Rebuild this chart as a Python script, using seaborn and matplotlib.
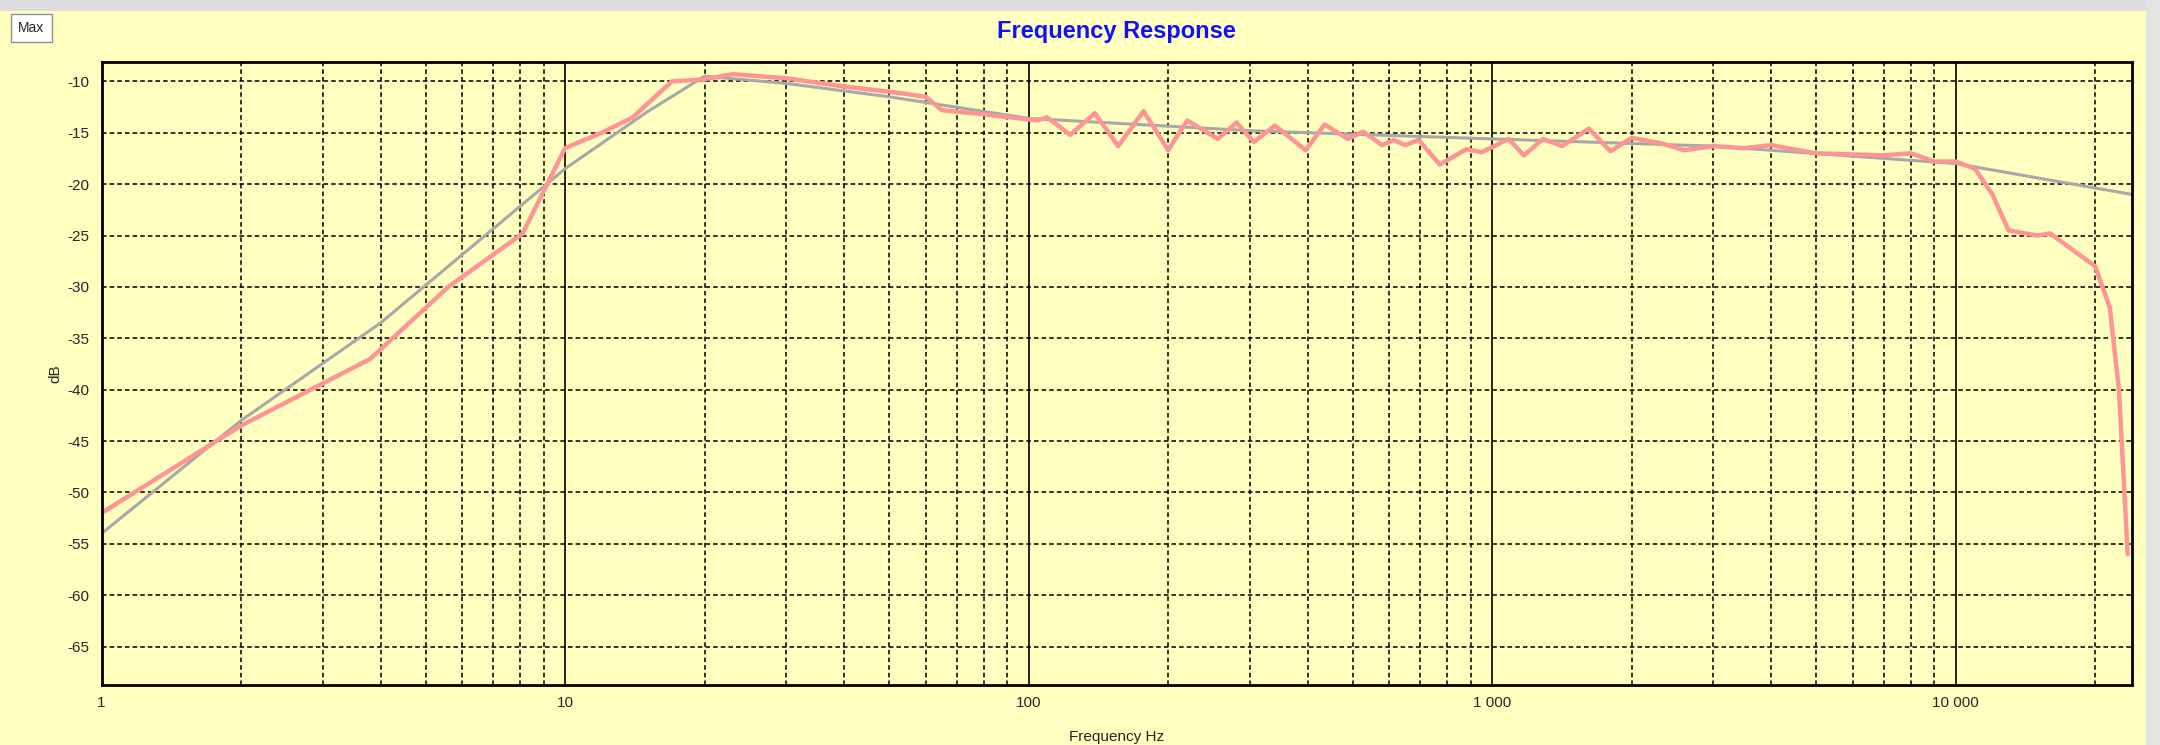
import numpy as np
import pandas as pd
import matplotlib
matplotlib.use("Agg")
import matplotlib.pyplot as plt
import seaborn as sns
from matplotlib.patches import Rectangle
from matplotlib.ticker import FixedLocator, FuncFormatter, LogLocator, NullFormatter

sns.set_style("white")
plt.rcParams['font.family'] = ['Liberation Sans', 'DejaVu Sans']
plt.rcParams['axes.unicode_minus'] = False

meas_f = [1, 2, 3.8, 5.6, 8.1, 10, 12, 14, 17, 20, 23, 30, 40, 50, 60, 65, 80, 86.5,
          104.7, 109.7, 123, 139, 156, 177, 200, 220, 256, 281, 306, 340, 396, 435, 488,
          527, 579, 613, 649, 694, 771, 880, 950, 1085, 1171, 1288, 1416, 1617, 1800,
          2000, 2300, 2600, 3000, 3500, 4000, 5000, 7000, 8000, 9000, 10000, 11000,
          12000, 13000, 15000, 16000, 18000, 20000, 21500, 22500, 23500]
meas_db = [-52, -43.5, -37, -30, -24.8, -16.5, -15, -13.5, -10, -9.8, -9.3, -9.7, -10.5,
           -11, -11.5, -12.8, -13.2, -13.4, -13.8, -13.5, -15.2, -13.1, -16.3, -12.9,
           -16.7, -13.8, -15.6, -14.0, -15.9, -14.3, -16.7, -14.2, -15.6, -14.9, -16.2,
           -15.7, -16.2, -15.7, -18.1, -16.6, -16.9, -15.6, -17.2, -15.6, -16.3, -14.6,
           -16.8, -15.5, -16.0, -16.7, -16.3, -16.5, -16.2, -17.0, -17.2, -17.0, -17.8,
           -17.8, -18.5, -21, -24.5, -25, -24.8, -26.5, -28, -32, -40, -56]
model_f = [1, 2, 4, 10, 15, 20, 30, 50, 100, 300, 1000, 3000, 10000, 24000]
model_db = [-54, -43, -33.5, -18.5, -13, -9.5, -10.2, -11.5, -13.6, -14.8, -15.6, -16.3, -18, -21]

bg = "#FFFFC0"
fig = plt.figure(figsize=(21.6, 7.45), dpi=100, facecolor=bg)
fig.patches.append(Rectangle((0, 0.985), 1, 0.015, transform=fig.transFigure,
                             fc="#DDDDDD", ec="none", zorder=0))
fig.patches.append(Rectangle((0.9935, 0), 0.0065, 1, transform=fig.transFigure,
                             fc="#E4E4E4", ec="none", zorder=0))
ax = fig.add_axes([0.047, 0.081, 0.94, 0.836])
ax.set_facecolor(bg)

sns.lineplot(x=model_f, y=model_db, ax=ax, color="#A8A8A8", linewidth=2.2, estimator=None, sort=False)
sns.lineplot(x=meas_f, y=meas_db, ax=ax, color="#FF9494", linewidth=3.2, estimator=None, sort=False)

ax.set_xscale("log")
ax.set_xlim(1, 24000)
ax.set_ylim(-68.7, -8.1)

ax.xaxis.set_major_locator(FixedLocator([1, 10, 100, 1000, 10000]))
ax.xaxis.set_major_formatter(FuncFormatter(lambda v, p: f"{int(round(v)):,}".replace(",", " ")))
ax.xaxis.set_minor_locator(LogLocator(base=10, subs=range(2, 10)))
ax.xaxis.set_minor_formatter(NullFormatter())
ax.set_yticks(np.arange(-65, -9, 5))

ax.grid(which="major", axis="x", color="black", linestyle="-", linewidth=1.2)
ax.grid(which="minor", axis="x", color="black", linestyle=(0, (3, 2)), linewidth=1.1)
ax.grid(which="major", axis="y", color="black", linestyle=(0, (3, 2)), linewidth=1.1)
ax.set_axisbelow(True)

for s in ax.spines.values():
    s.set_color("black")
    s.set_linewidth(2)
ax.tick_params(axis="both", which="major", labelsize=11, length=5, color="#808080")
ax.tick_params(axis="x", which="minor", length=5, color="#808080")

ax.set_xlabel("Frequency Hz", fontsize=11, labelpad=14)
ax.set_ylabel("dB", fontsize=11)
ax.set_title("Frequency Response", color="#1010FF", fontsize=17, fontweight="bold", pad=17)

fig.text(0.0085, 0.962, "Max", fontsize=10, ha="left", va="center",
         bbox=dict(boxstyle="square,pad=0.5", fc="white", ec="#909090"))

fig.savefig("out.png", dpi=100, facecolor=bg)
